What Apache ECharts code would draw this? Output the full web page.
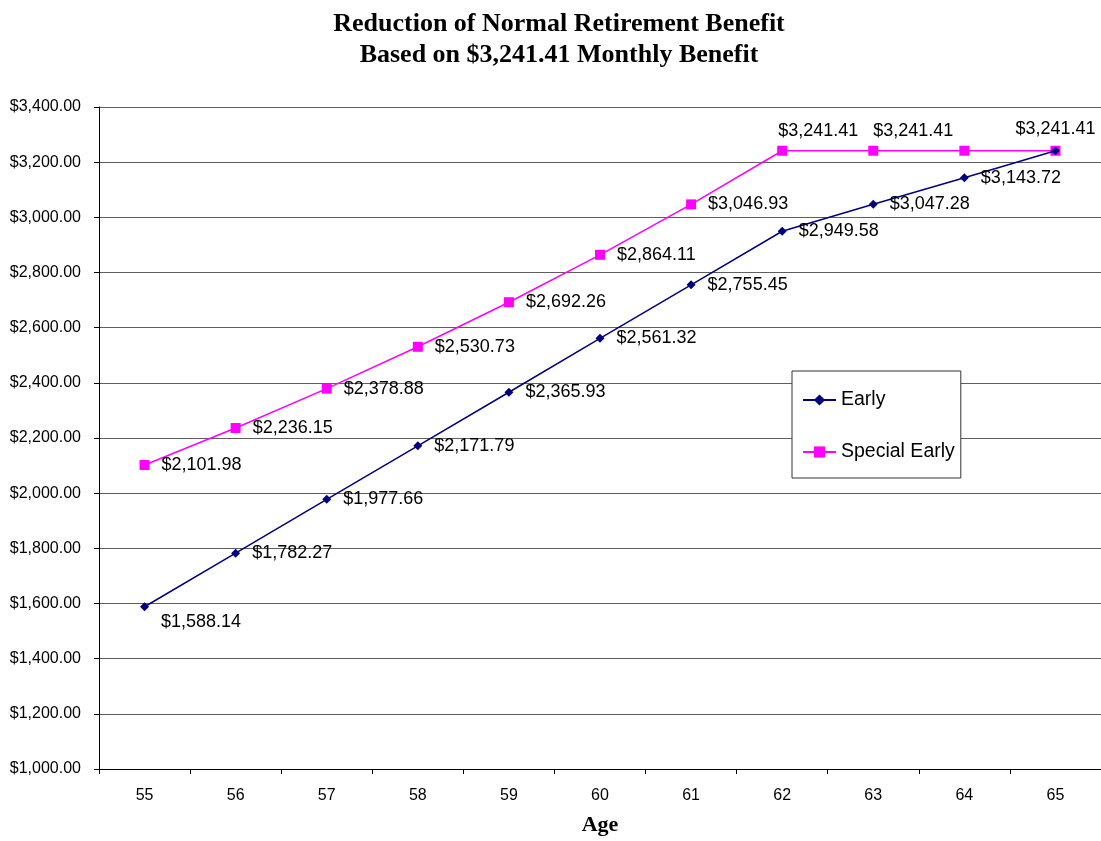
<!DOCTYPE html>
<html>
<head>
<meta charset="utf-8">
<title>Reduction of Normal Retirement Benefit</title>
<script src="https://cdn.jsdelivr.net/npm/echarts@6/dist/echarts.min.js"></script>
<style>
  html, body { margin: 0; padding: 0; background: #ffffff; }
  #chart { width: 1101px; height: 841px; }
</style>
</head>
<body>
<div id="chart"></div>
<script>
// Monthly benefit by retirement age
const ages = ['55', '56', '57', '58', '59', '60', '61', '62', '63', '64', '65'];
const earlyValues = [1588.14, 1782.27, 1977.66, 2171.79, 2365.93, 2561.32, 2755.45, 2949.58, 3047.28, 3143.72, 3241.41];
const specialEarlyValues = [2101.98, 2236.15, 2378.88, 2530.73, 2692.26, 2864.11, 3046.93, 3241.41, 3241.41, 3241.41, 3241.41];
const yMin = 1000;
const yMax = 3400;
const yStep = 200;

const money = v => '$' + Number(v).toLocaleString('en-US', { minimumFractionDigits: 2, maximumFractionDigits: 2 });

const labelFont = { fontFamily: 'Liberation Sans, Arial, sans-serif', fontSize: 18, color: '#000' };

// Per-point label placement overrides (index -> label options)
const earlyLabelTweaks = {
  0: { offset: [0, 15] },
  10: { show: false }
};
const specialLabelTweaks = {
  7: { position: 'top', align: 'left', offset: [-4, 0], distance: 6 },
  8: { position: 'top', align: 'left', offset: [0, 0], distance: 6 },
  9: { show: false },
  10: { position: 'top', distance: 8 }
};

function buildPoints(values, tweaks) {
  return values.map((v, i) => tweaks[i] ? { value: v, label: tweaks[i] } : v);
}

const chart = echarts.init(document.getElementById('chart'), null, { renderer: 'canvas' });

chart.setOption({
  backgroundColor: '#ffffff',
  animation: false,
  title: {
    text: 'Reduction of Normal Retirement Benefit\nBased on $3,241.41 Monthly Benefit',
    left: 554,
    top: 4,
    textAlign: 'center',
    textStyle: {
      fontFamily: 'Liberation Serif, Times New Roman, serif',
      fontWeight: 'bold',
      fontSize: 26,
      lineHeight: 31,
      color: '#000'
    }
  },
  legend: {
    orient: 'vertical',
    left: 792,
    top: 371,
    padding: [19, 6, 16, 10],
    itemGap: 32,
    itemWidth: 33,
    itemHeight: 14,
    borderColor: '#333',
    borderWidth: 1,
    backgroundColor: '#fff',
    textStyle: { fontFamily: 'Liberation Sans, Arial, sans-serif', fontSize: 19.5, color: '#000' },
    data: ['Early', 'Special Early']
  },
  grid: {
    left: 99,
    top: 107,
    width: 1005,
    height: 668,
    containLabel: false
  },
  xAxis: {
    type: 'category',
    data: ages,
    boundaryGap: true,
    name: 'Age',
    nameLocation: 'middle',
    nameGap: 45,
    nameTextStyle: {
      fontFamily: 'Liberation Serif, Times New Roman, serif',
      fontWeight: 'bold',
      fontSize: 22,
      color: '#000'
    },
    axisLine: { show: true, lineStyle: { color: '#000', width: 1 } },
    axisTick: { show: true, inside: false, length: 5, alignWithLabel: false, lineStyle: { color: '#000' } },
    axisLabel: { margin: 19, fontFamily: 'Liberation Sans, Arial, sans-serif', fontSize: 16, color: '#000' },
    splitLine: { show: false }
  },
  yAxis: {
    type: 'value',
    min: yMin,
    max: yMax,
    interval: yStep,
    axisLine: { show: true, lineStyle: { color: '#000', width: 1 } },
    axisTick: { show: true, inside: false, length: 5, lineStyle: { color: '#000' } },
    axisLabel: {
      margin: 18,
      fontFamily: 'Liberation Sans, Arial, sans-serif',
      fontSize: 16,
      color: '#000',
      formatter: v => money(v)
    },
    splitLine: { show: true, lineStyle: { color: '#5e5e5e', width: 1 } }
  },
  series: [
    {
      name: 'Early',
      type: 'line',
      data: buildPoints(earlyValues, earlyLabelTweaks),
      symbol: 'diamond',
      symbolSize: 9,
      showAllSymbol: true,
      itemStyle: { color: '#000080' },
      lineStyle: { color: '#000080', width: 1.5 },
      label: Object.assign({
        show: true,
        position: 'right',
        distance: 12,
        formatter: p => money(p.value)
      }, labelFont),
      z: 3
    },
    {
      name: 'Special Early',
      type: 'line',
      data: buildPoints(specialEarlyValues, specialLabelTweaks),
      symbol: 'rect',
      symbolSize: 10,
      showAllSymbol: true,
      itemStyle: { color: '#ff00ff' },
      lineStyle: { color: '#ff00ff', width: 1.5 },
      label: Object.assign({
        show: true,
        position: 'right',
        distance: 12,
        formatter: p => money(p.value)
      }, labelFont),
      z: 2
    }
  ]
});
</script>
</body>
</html>
